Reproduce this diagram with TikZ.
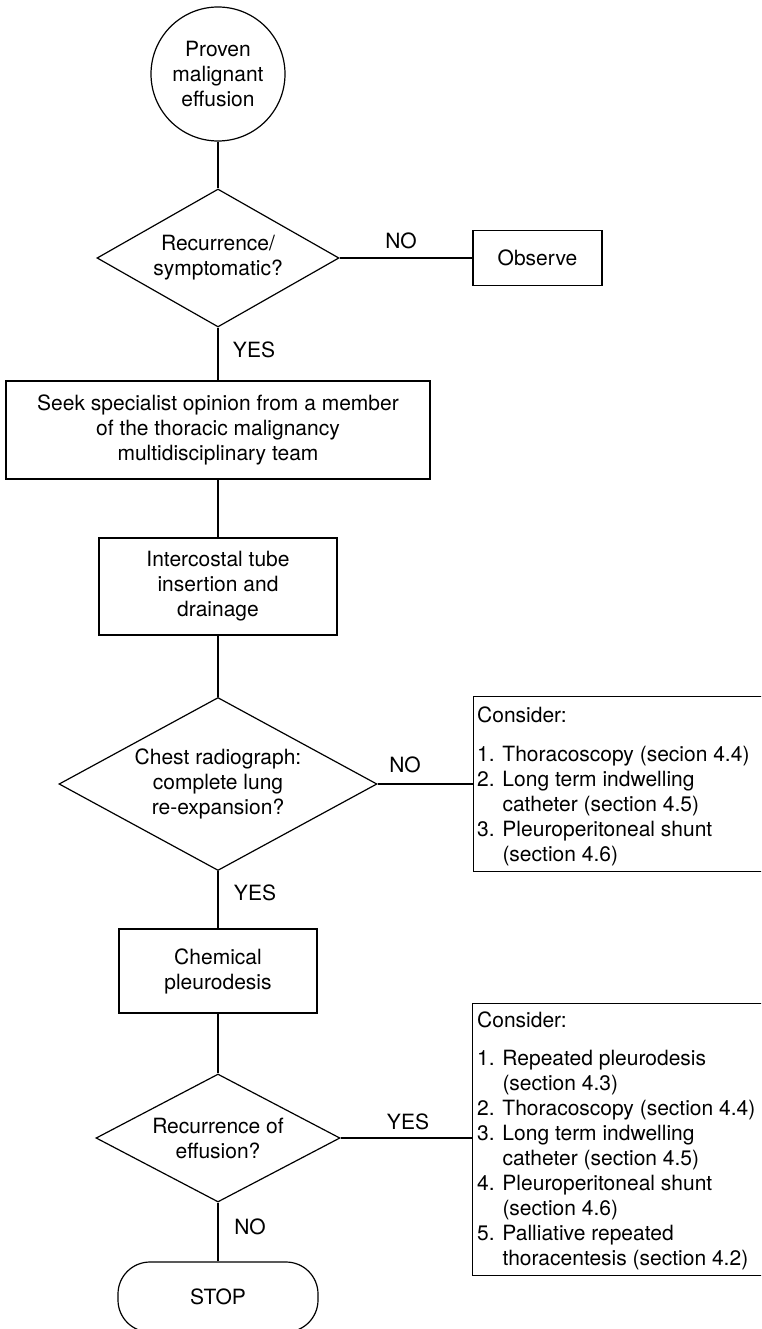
\documentclass[tikz,border=0pt]{standalone}
\usepackage{fontspec}
\setmainfont{TeX Gyre Heros}
\usetikzlibrary{shapes.geometric}
\begin{document}
\begin{tikzpicture}[x=1pt,y=-1pt,
  every node/.style={font=\fontsize{21}{25}\selectfont},
  conn/.style={line width=1.2pt},
  box/.style={draw, line width=1.2pt, rectangle, align=center, inner sep=0pt},
  dia/.style={draw, line width=1.2pt, diamond, align=center, inner sep=0pt},
  lbl/.style={inner sep=0pt}]
\useasboundingbox (0,0) rectangle (761,1329);
\clip (0,0) rectangle (761,1329);

\node[draw, circle, line width=1.2pt, minimum size=134pt, align=center, inner sep=0pt] (start) at (218,74) {Proven\\malignant\\effusion};
\node[dia, aspect=1.75, minimum width=242pt, minimum height=138pt] (d1) at (218,258) {Recurrence/\\symptomatic?};
\node[box, minimum width=129pt, minimum height=55pt] (obs) at (537.5,258) {Observe};
\node[box, minimum width=424pt, minimum height=98pt] (seek) at (218,430) {Seek specialist opinion from a member\\of the thoracic malignancy\\multidisciplinary team};
\node[box, minimum width=238pt, minimum height=97pt] (tube) at (218,586.5) {Intercostal tube\\insertion and\\drainage};
\node[dia, aspect=1.84, minimum width=318pt, minimum height=173pt] (d2) at (218,784) {Chest radiograph:\\complete lung\\re-expansion?};
\node[box, minimum width=198pt, minimum height=84pt] (chem) at (218,971) {Chemical\\pleurodesis};
\node[dia, aspect=1.9, minimum width=244pt, minimum height=128pt] (d3) at (218,1138) {Recurrence of\\effusion?};
\node[draw, line width=1.2pt, rounded corners=32pt, minimum width=200pt, minimum height=70pt, inner sep=0pt] (stop) at (218,1297) {STOP};

\node[draw, line width=1.2pt, minimum width=330pt, minimum height=175pt, anchor=north west, inner sep=0pt] (c1) at (473,696) {};
\node[anchor=base west, inner sep=0pt] (c1t) at (477,722.5) {\parbox[t]{300pt}{\raggedright Consider:\\[14pt]1. Thoracoscopy (secion 4.4)\\2. Long term indwelling\\\phantom{2. }catheter (section 4.5)\\3. Pleuroperitoneal shunt\\\phantom{3. }(section 4.6)}};

\node[draw, line width=1.2pt, minimum width=330pt, minimum height=272pt, anchor=north west, inner sep=0pt] (c2) at (472,1003) {};
\node[anchor=base west, inner sep=0pt] (c2t) at (477,1027.5) {\parbox[t]{300pt}{\raggedright Consider:\\[13pt]1. Repeated pleurodesis\\\phantom{1. }(section 4.3)\\2. Thoracoscopy (section 4.4)\\3. Long term indwelling\\\phantom{3. }catheter (section 4.5)\\4. Pleuroperitoneal shunt\\\phantom{4. }(section 4.6)\\5. Palliative repeated\\\phantom{5. }thoracentesis (section 4.2)}};

\node[lbl] (no1) at (401,241) {NO};
\node[lbl] (yes1) at (254,350) {YES};
\node[lbl] (no2) at (405,765) {NO};
\node[lbl] (yes2) at (255,893) {YES};
\node[lbl] (yes3) at (408,1122) {YES};
\node[lbl] (no3) at (250,1227) {NO};

\draw[conn] (start) -- (d1);
\draw[conn] (d1.east) -- (d1.east -| obs.west);
\draw[conn] (d1) -- (seek);
\draw[conn] (seek) -- (tube);
\draw[conn] (tube) -- (d2);
\draw[conn] (d2.east) -- (d2.east -| c1.west);
\draw[conn] (d2) -- (chem);
\draw[conn] (chem) -- (d3);
\draw[conn] (d3.east) -- (d3.east -| c2.west);
\draw[conn] (d3) -- (stop);
\end{tikzpicture}
\end{document}
